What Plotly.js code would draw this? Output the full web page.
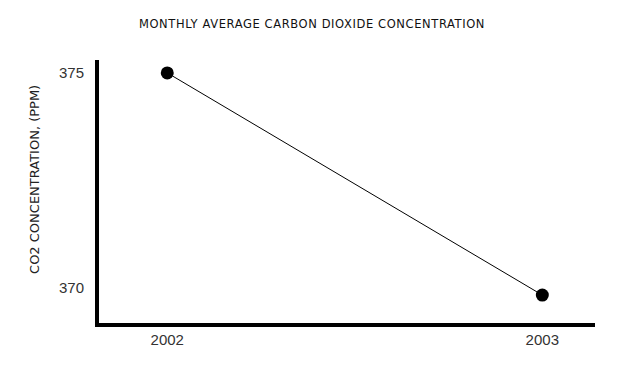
<!DOCTYPE html>
<html>
<head>
<meta charset="utf-8">
<script src="https://cdn.plot.ly/plotly-3.0.1.min.js"></script>
<style>html,body{margin:0;padding:0;background:#fff;}#chart{width:629px;height:369px;}
.gtitle{letter-spacing:0.6px;}</style>
</head>
<body>
<div id="chart"></div>
<script>
const years = [2002, 2003];
const co2 = [375.0, 369.83];
const yTicks = [370, 375];
const xTicks = [2002, 2003];
const chartTitle = "MONTHLY AVERAGE CARBON DIOXIDE CONCENTRATION";
const yTitle = "CO2 CONCENTRATION, (PPM)";

const trace = {
  x: years, y: co2, type: "scatter", mode: "lines+markers",
  line: {color: "#000", width: 1},
  marker: {color: "#000", size: 13},
  hoverinfo: "skip"
};
const layout = {
  width: 629, height: 369,
  margin: {l: 99, r: 34, t: 60, b: 46},
  paper_bgcolor: "#fff", plot_bgcolor: "#fff",
  showlegend: false,
  title: {text: chartTitle, x: 0.496, xanchor: "center", y: 0.935, yanchor: "middle",
          font: {family: "DejaVu Sans", size: 11.5, color: "#111"}},
  xaxis: {range: [2001.818, 2003.1405], tickvals: xTicks, ticktext: xTicks.map(String),
          showgrid: false, zeroline: false, showline: true, linecolor: "#000", linewidth: 4,
          ticks: "", ticklen: 0, tickfont: {family: "Liberation Sans", size: 15, color: "#333"}},
  yaxis: {range: [369.18, 375.30], tickvals: yTicks, ticktext: yTicks.map(String),
          showgrid: false, zeroline: false, showline: true, linecolor: "#000", linewidth: 4,
          ticks: "", ticklen: 0, ticklabelstandoff: 8,
          tickfont: {family: "Liberation Sans", size: 15, color: "#333"}},
  annotations: [{text: yTitle, textangle: -90, xref: "paper", yref: "paper",
                 x: -0.129, y: 0.544, xanchor: "center", yanchor: "middle", showarrow: false,
                 font: {family: "DejaVu Sans", size: 13, color: "#222"}}]
};
Plotly.newPlot("chart", [trace], layout, {displayModeBar: false, staticPlot: true});
</script>
</body>
</html>
